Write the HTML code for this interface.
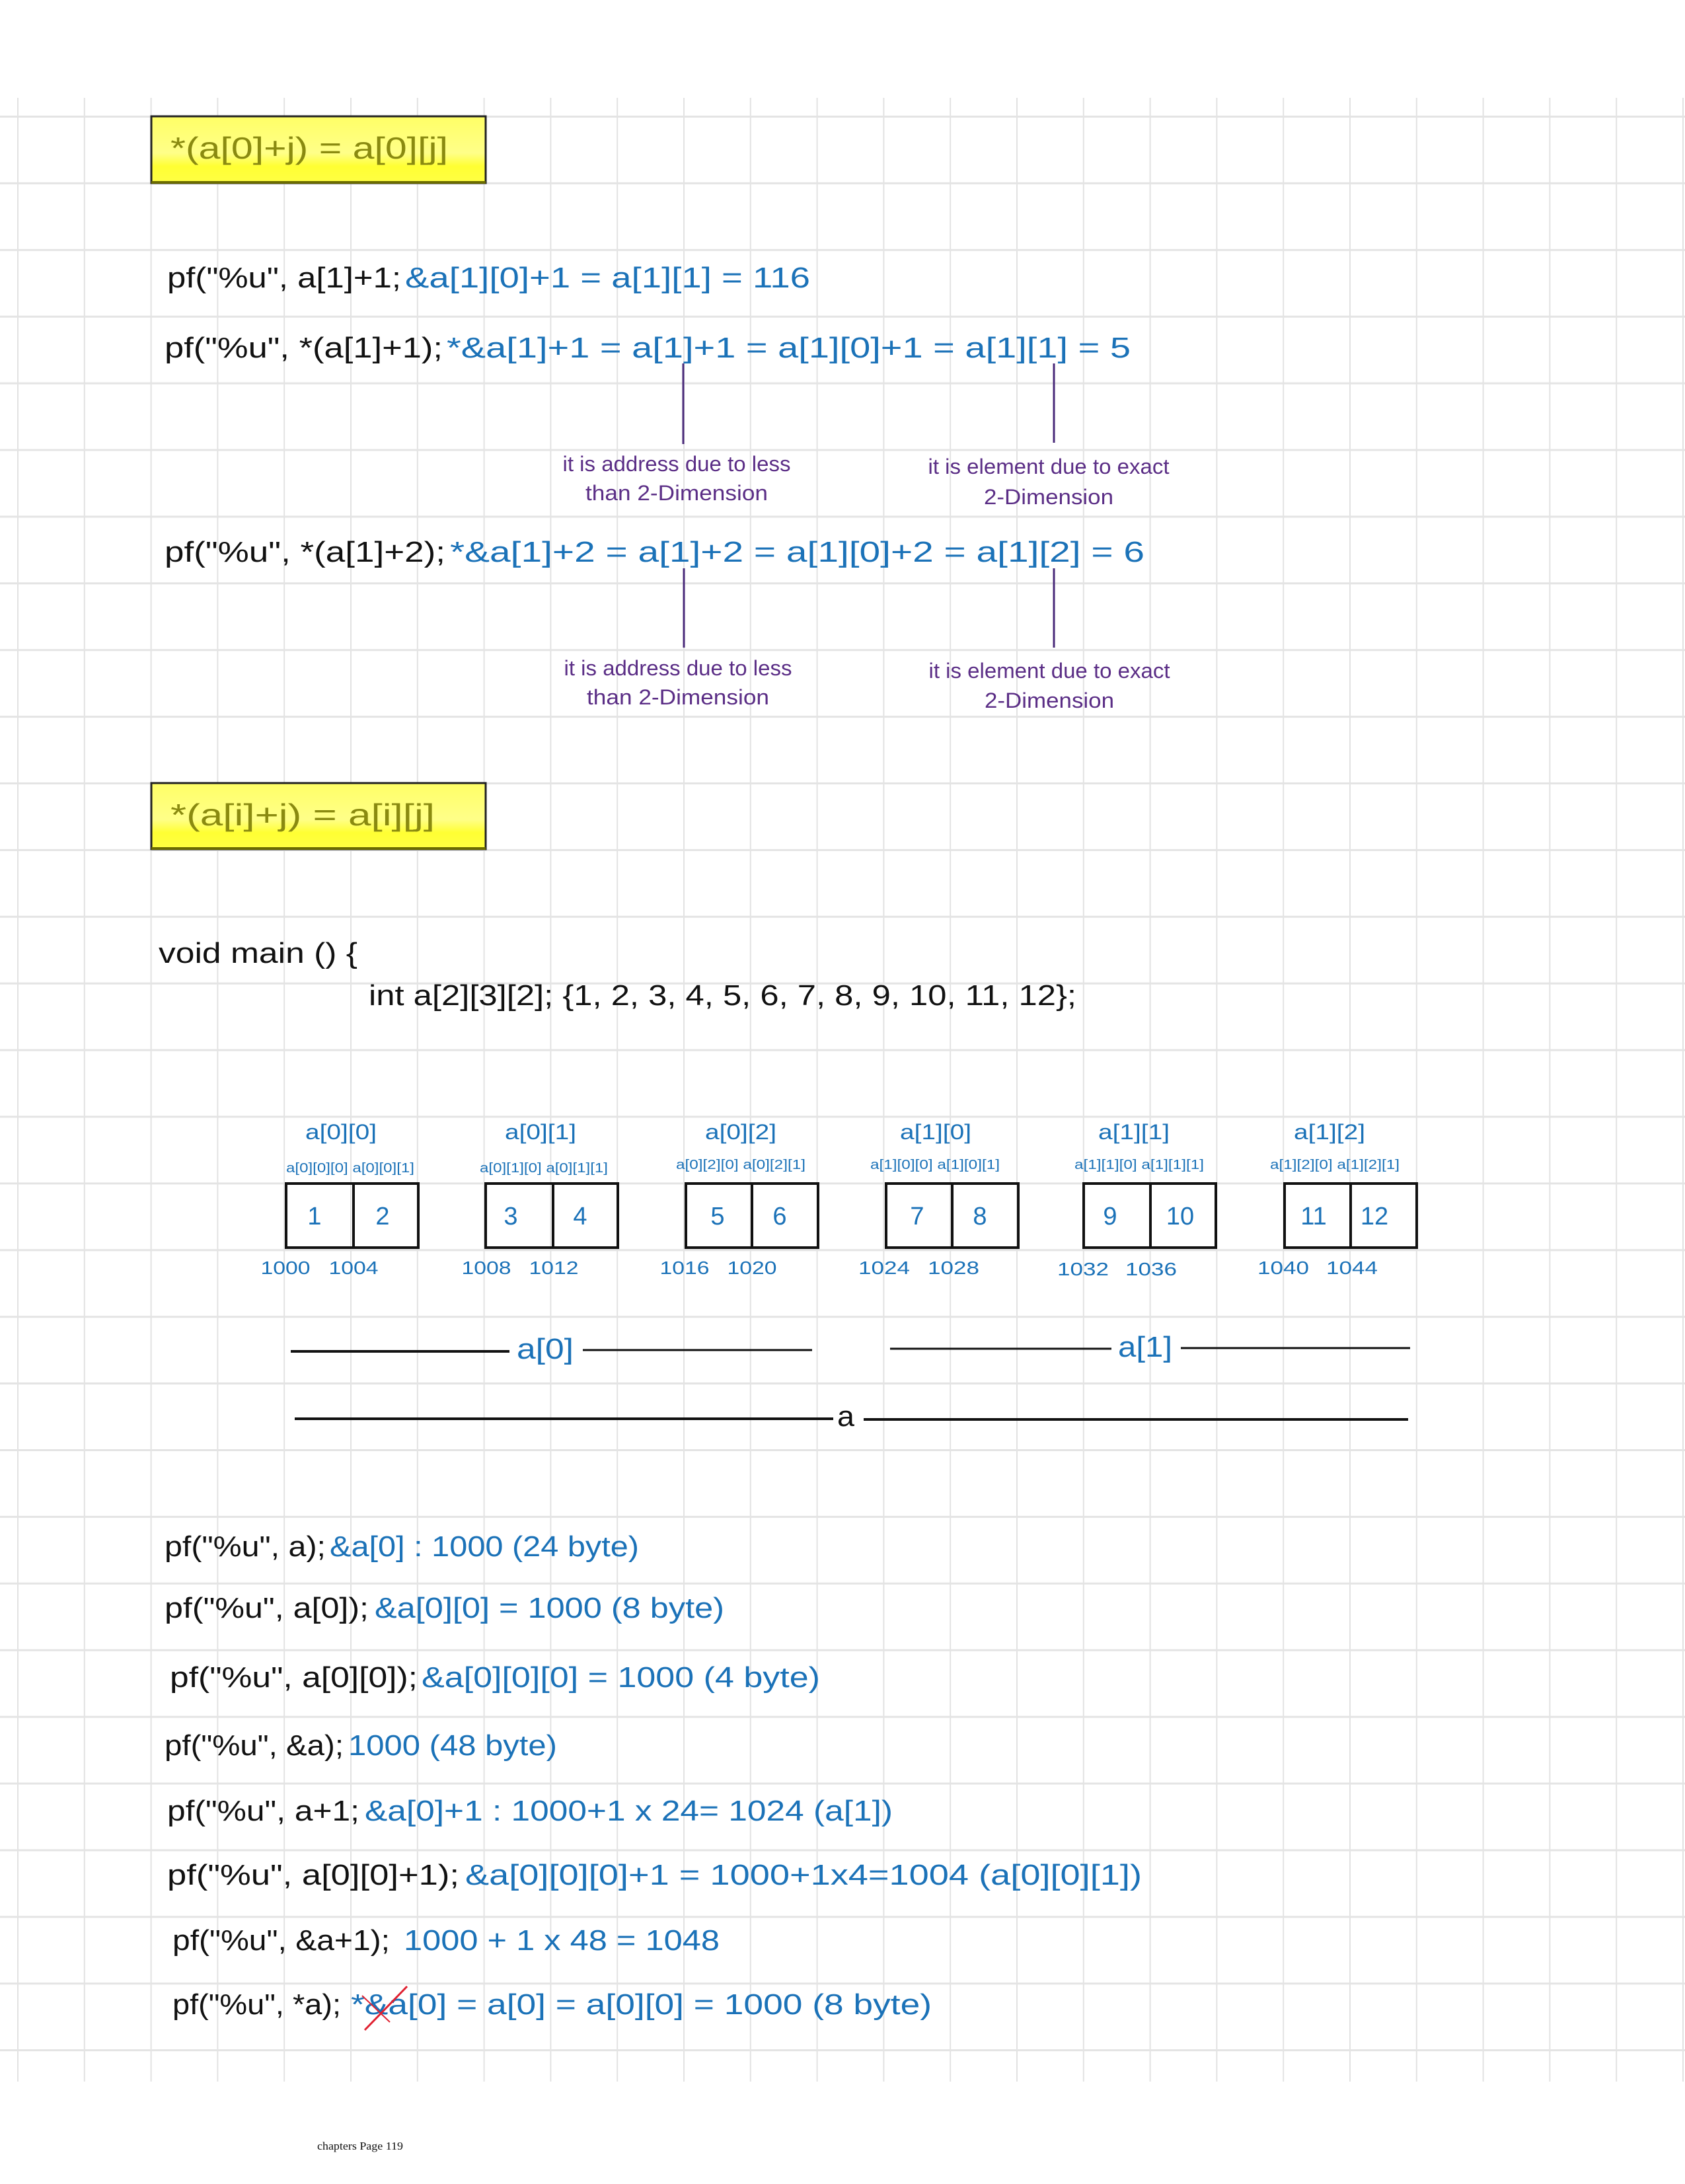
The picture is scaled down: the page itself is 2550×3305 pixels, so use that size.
<!DOCTYPE html>
<html><head><meta charset="utf-8"><style>
html,body{margin:0;padding:0;background:#fff;}
svg{display:block;}
text{font-family:"Liberation Sans",sans-serif;}
.k{fill:#111;font-size:44px;}
.b{fill:#1b72b8;font-size:44px;}
.p{fill:#5b2e86;font-size:32px;}
.al{fill:#1b72b8;font-size:32px;}
.sl{fill:#1b72b8;font-size:20px;}
.n{fill:#1b72b8;font-size:38px;}
.ad{fill:#1b72b8;font-size:28px;}
.y{fill:#8a8a10;font-size:46px;}
</style></head><body>
<svg width="2550" height="3305" viewBox="0 0 2550 3305" xmlns="http://www.w3.org/2000/svg">
<defs>
<linearGradient id="yg" x1="0" y1="0" x2="0" y2="1">
<stop offset="0" stop-color="#ffff66"/><stop offset="0.55" stop-color="#ffff88"/><stop offset="0.75" stop-color="#ffff33"/><stop offset="1" stop-color="#ffff44"/>
</linearGradient>
<pattern id="gv" x="26" y="0" width="100.8" height="3305" patternUnits="userSpaceOnUse">
<rect x="0" y="0" width="2" height="3305" fill="#e2e2e2"/>
</pattern>
<pattern id="gh" x="0" y="175" width="2550" height="100.9" patternUnits="userSpaceOnUse">
<rect x="0" y="0" width="2550" height="3" fill="#e4e4e4"/>
</pattern>
</defs>
<rect x="0" y="148" width="2550" height="3002" fill="url(#gv)"/>
<rect x="0" y="175" width="2550" height="2930" fill="url(#gh)"/>

<!-- yellow box 1 -->
<rect x="229" y="176" width="506" height="101" fill="url(#yg)" stroke="#222" stroke-width="3"/>
<line x1="229" y1="276" x2="735" y2="276" stroke="#6b6b00" stroke-width="4"/>
<text class="y" x="258" y="240" textLength="420" lengthAdjust="spacingAndGlyphs">*(a[0]+j) = a[0][j]</text>

<text class="k" x="253" y="435" textLength="354" lengthAdjust="spacingAndGlyphs">pf("%u", a[1]+1;</text>
<text class="b" x="613" y="435" textLength="613" lengthAdjust="spacingAndGlyphs">&amp;a[1][0]+1 = a[1][1] = 116</text>

<text class="k" x="249" y="541" textLength="421" lengthAdjust="spacingAndGlyphs">pf("%u", *(a[1]+1);</text>
<text class="b" x="676" y="541" textLength="1035" lengthAdjust="spacingAndGlyphs">*&amp;a[1]+1 = a[1]+1 = a[1][0]+1 = a[1][1] = 5</text>
<line x1="1034" y1="550" x2="1034" y2="672" stroke="#4a2a7a" stroke-width="3"/>
<line x1="1595" y1="550" x2="1595" y2="670" stroke="#4a2a7a" stroke-width="3"/>
<text class="p" x="1024" y="713" text-anchor="middle" textLength="345" lengthAdjust="spacingAndGlyphs">it is address due to less</text>
<text class="p" x="1024" y="757" text-anchor="middle" textLength="276" lengthAdjust="spacingAndGlyphs">than 2-Dimension</text>
<text class="p" x="1587" y="717" text-anchor="middle" textLength="365" lengthAdjust="spacingAndGlyphs">it is element due to exact</text>
<text class="p" x="1587" y="763" text-anchor="middle" textLength="196" lengthAdjust="spacingAndGlyphs">2-Dimension</text>

<text class="k" x="249" y="850" textLength="425" lengthAdjust="spacingAndGlyphs">pf("%u", *(a[1]+2);</text>
<text class="b" x="681" y="850" textLength="1051" lengthAdjust="spacingAndGlyphs">*&amp;a[1]+2 = a[1]+2 = a[1][0]+2 = a[1][2] = 6</text>
<line x1="1035" y1="860" x2="1035" y2="980" stroke="#4a2a7a" stroke-width="3"/>
<line x1="1595" y1="860" x2="1595" y2="980" stroke="#4a2a7a" stroke-width="3"/>
<text class="p" x="1026" y="1022" text-anchor="middle" textLength="345" lengthAdjust="spacingAndGlyphs">it is address due to less</text>
<text class="p" x="1026" y="1066" text-anchor="middle" textLength="276" lengthAdjust="spacingAndGlyphs">than 2-Dimension</text>
<text class="p" x="1588" y="1026" text-anchor="middle" textLength="365" lengthAdjust="spacingAndGlyphs">it is element due to exact</text>
<text class="p" x="1588" y="1071" text-anchor="middle" textLength="196" lengthAdjust="spacingAndGlyphs">2-Dimension</text>

<!-- yellow box 2 -->
<rect x="229" y="1185" width="506" height="100" fill="url(#yg)" stroke="#222" stroke-width="3"/>
<line x1="229" y1="1284" x2="735" y2="1284" stroke="#6b6b00" stroke-width="4"/>
<text class="y" x="258" y="1249" textLength="400" lengthAdjust="spacingAndGlyphs">*(a[i]+j) = a[i][j]</text>

<text class="k" x="240" y="1457" textLength="301" lengthAdjust="spacingAndGlyphs">void main () {</text>
<text class="k" x="558" y="1521" textLength="1071" lengthAdjust="spacingAndGlyphs">int a[2][3][2]; {1, 2, 3, 4, 5, 6, 7, 8, 9, 10, 11, 12};</text>

<!-- array groups -->
<g>
<rect x="433" y="1791" width="200" height="97" fill="none" stroke="#111" stroke-width="4"/><line x1="535" y1="1791" x2="535" y2="1888" stroke="#111" stroke-width="4"/>
<rect x="735" y="1791" width="200" height="97" fill="none" stroke="#111" stroke-width="4"/><line x1="837" y1="1791" x2="837" y2="1888" stroke="#111" stroke-width="4"/>
<rect x="1038" y="1791" width="200" height="97" fill="none" stroke="#111" stroke-width="4"/><line x1="1138" y1="1791" x2="1138" y2="1888" stroke="#111" stroke-width="4"/>
<rect x="1341" y="1791" width="200" height="97" fill="none" stroke="#111" stroke-width="4"/><line x1="1441" y1="1791" x2="1441" y2="1888" stroke="#111" stroke-width="4"/>
<rect x="1640" y="1791" width="200" height="97" fill="none" stroke="#111" stroke-width="4"/><line x1="1741" y1="1791" x2="1741" y2="1888" stroke="#111" stroke-width="4"/>
<rect x="1944" y="1791" width="200" height="97" fill="none" stroke="#111" stroke-width="4"/><line x1="2044" y1="1791" x2="2044" y2="1888" stroke="#111" stroke-width="4"/>
</g>
<g class="al" text-anchor="middle">
<text class="al" x="516" y="1724" textLength="108" lengthAdjust="spacingAndGlyphs">a[0][0]</text>
<text class="al" x="818" y="1724" textLength="108" lengthAdjust="spacingAndGlyphs">a[0][1]</text>
<text class="al" x="1121" y="1724" textLength="108" lengthAdjust="spacingAndGlyphs">a[0][2]</text>
<text class="al" x="1416" y="1724" textLength="108" lengthAdjust="spacingAndGlyphs">a[1][0]</text>
<text class="al" x="1716" y="1724" textLength="108" lengthAdjust="spacingAndGlyphs">a[1][1]</text>
<text class="al" x="2012" y="1724" textLength="108" lengthAdjust="spacingAndGlyphs">a[1][2]</text>
</g>
<g text-anchor="middle">
<text class="sl" x="530" y="1774" textLength="194" lengthAdjust="spacingAndGlyphs">a[0][0][0] a[0][0][1]</text>
<text class="sl" x="823" y="1774" textLength="194" lengthAdjust="spacingAndGlyphs">a[0][1][0] a[0][1][1]</text>
<text class="sl" x="1121" y="1769" textLength="196" lengthAdjust="spacingAndGlyphs">a[0][2][0] a[0][2][1]</text>
<text class="sl" x="1415" y="1769" textLength="196" lengthAdjust="spacingAndGlyphs">a[1][0][0] a[1][0][1]</text>
<text class="sl" x="1724" y="1769" textLength="196" lengthAdjust="spacingAndGlyphs">a[1][1][0] a[1][1][1]</text>
<text class="sl" x="2020" y="1769" textLength="196" lengthAdjust="spacingAndGlyphs">a[1][2][0] a[1][2][1]</text>
</g>
<g text-anchor="middle">
<text class="n" x="476" y="1853">1</text><text class="n" x="579" y="1853">2</text>
<text class="n" x="773" y="1853">3</text><text class="n" x="878" y="1853">4</text>
<text class="n" x="1086" y="1853">5</text><text class="n" x="1180" y="1853">6</text>
<text class="n" x="1388" y="1853">7</text><text class="n" x="1483" y="1853">8</text>
<text class="n" x="1680" y="1853">9</text><text class="n" x="1786" y="1853">10</text>
<text class="n" x="1988" y="1853">11</text><text class="n" x="2080" y="1853">12</text>
</g>
<g text-anchor="middle">
<text class="ad" x="432" y="1928" textLength="75" lengthAdjust="spacingAndGlyphs">1000</text><text class="ad" x="535" y="1928" textLength="75" lengthAdjust="spacingAndGlyphs">1004</text>
<text class="ad" x="736" y="1928" textLength="75" lengthAdjust="spacingAndGlyphs">1008</text><text class="ad" x="838" y="1928" textLength="75" lengthAdjust="spacingAndGlyphs">1012</text>
<text class="ad" x="1036" y="1928" textLength="75" lengthAdjust="spacingAndGlyphs">1016</text><text class="ad" x="1138" y="1928" textLength="75" lengthAdjust="spacingAndGlyphs">1020</text>
<text class="ad" x="1338" y="1928" textLength="78" lengthAdjust="spacingAndGlyphs">1024</text><text class="ad" x="1443" y="1928" textLength="78" lengthAdjust="spacingAndGlyphs">1028</text>
<text class="ad" x="1639" y="1930" textLength="78" lengthAdjust="spacingAndGlyphs">1032</text><text class="ad" x="1742" y="1930" textLength="78" lengthAdjust="spacingAndGlyphs">1036</text>
<text class="ad" x="1942" y="1928" textLength="78" lengthAdjust="spacingAndGlyphs">1040</text><text class="ad" x="2046" y="1928" textLength="78" lengthAdjust="spacingAndGlyphs">1044</text>
</g>

<!-- range lines -->
<line x1="440" y1="2045" x2="771" y2="2045" stroke="#111" stroke-width="4"/>
<text class="b" x="782" y="2056" textLength="86" lengthAdjust="spacingAndGlyphs">a[0]</text>
<line x1="882" y1="2043" x2="1229" y2="2043" stroke="#111" stroke-width="3"/>
<line x1="1347" y1="2041" x2="1682" y2="2041" stroke="#111" stroke-width="3"/>
<text class="b" x="1692" y="2053" textLength="82" lengthAdjust="spacingAndGlyphs">a[1]</text>
<line x1="1787" y1="2040" x2="2134" y2="2040" stroke="#111" stroke-width="3"/>
<line x1="446" y1="2147" x2="1261" y2="2147" stroke="#111" stroke-width="4"/>
<text class="k" x="1267" y="2158" textLength="26" lengthAdjust="spacingAndGlyphs">a</text>
<line x1="1307" y1="2148" x2="2131" y2="2148" stroke="#111" stroke-width="4"/>

<!-- bottom lines -->
<text class="k" x="249" y="2355" textLength="244" lengthAdjust="spacingAndGlyphs">pf("%u", a);</text>
<text class="b" x="499" y="2355" textLength="468" lengthAdjust="spacingAndGlyphs">&amp;a[0] : 1000 (24 byte)</text>
<text class="k" x="249" y="2448" textLength="309" lengthAdjust="spacingAndGlyphs">pf("%u", a[0]);</text>
<text class="b" x="567" y="2448" textLength="529" lengthAdjust="spacingAndGlyphs">&amp;a[0][0] = 1000 (8 byte)</text>
<text class="k" x="257" y="2553" textLength="375" lengthAdjust="spacingAndGlyphs">pf("%u", a[0][0]);</text>
<text class="b" x="638" y="2553" textLength="603" lengthAdjust="spacingAndGlyphs">&amp;a[0][0][0] = 1000 (4 byte)</text>
<text class="k" x="249" y="2656" textLength="271" lengthAdjust="spacingAndGlyphs">pf("%u", &amp;a);</text>
<text class="b" x="527" y="2656" textLength="316" lengthAdjust="spacingAndGlyphs">1000 (48 byte)</text>
<text class="k" x="253" y="2755" textLength="291" lengthAdjust="spacingAndGlyphs">pf("%u", a+1;</text>
<text class="b" x="552" y="2755" textLength="799" lengthAdjust="spacingAndGlyphs">&amp;a[0]+1 : 1000+1 x 24= 1024 (a[1])</text>
<text class="k" x="253" y="2852" textLength="442" lengthAdjust="spacingAndGlyphs">pf("%u", a[0][0]+1);</text>
<text class="b" x="704" y="2852" textLength="1024" lengthAdjust="spacingAndGlyphs">&amp;a[0][0][0]+1 = 1000+1x4=1004 (a[0][0][1])</text>
<text class="k" x="261" y="2951" textLength="329" lengthAdjust="spacingAndGlyphs">pf("%u", &amp;a+1);</text>
<text class="b" x="611" y="2951" textLength="478" lengthAdjust="spacingAndGlyphs">1000 + 1 x 48 = 1048</text>
<text class="k" x="261" y="3048" textLength="255" lengthAdjust="spacingAndGlyphs">pf("%u", *a);</text>
<text class="b" x="531" y="3048" textLength="879" lengthAdjust="spacingAndGlyphs">*&amp;a[0] = a[0] = a[0][0] = 1000 (8 byte)</text>
<line x1="552" y1="3072" x2="616" y2="3006" stroke="#e02030" stroke-width="3"/>
<line x1="548" y1="3020" x2="590" y2="3060" stroke="#e02030" stroke-width="2"/>

<text x="480" y="3253" style="font-family:'Liberation Serif',serif;font-size:17px;fill:#111" textLength="130" lengthAdjust="spacingAndGlyphs">chapters Page 119</text>
</svg>
</body></html>
